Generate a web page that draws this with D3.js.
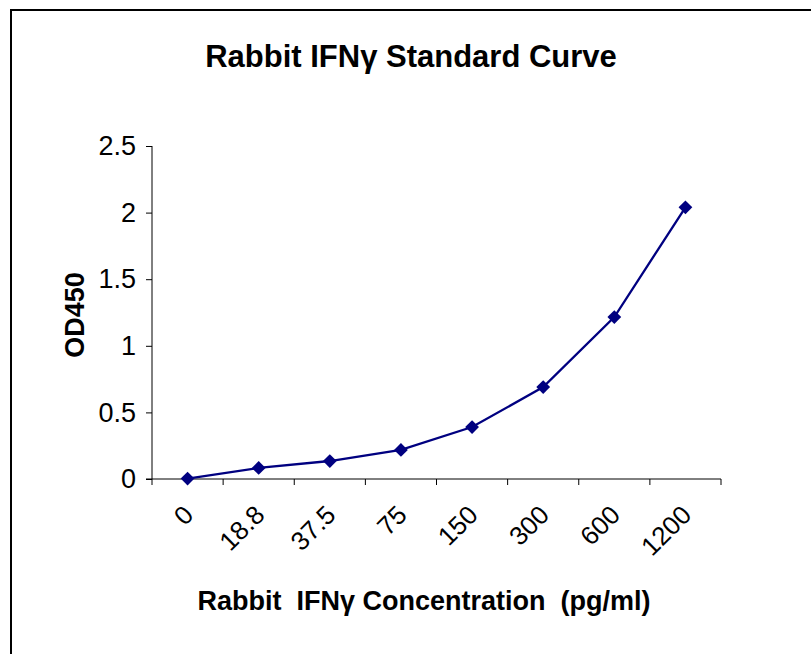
<!DOCTYPE html>
<html><head><meta charset="utf-8">
<script src="https://cdn.jsdelivr.net/npm/d3@7"></script>
<style>body{margin:0;background:#fff;} text{font-family:"Liberation Sans",Arial,sans-serif;}</style>
</head><body>
<svg id="c" width="811" height="654"></svg>
<script>
const categories = ["0","18.8","37.5","75","150","300","600","1200"];
const odValues = [0.003, 0.083, 0.135, 0.218, 0.39, 0.69, 1.216, 2.04];
const yTicks = [0, 0.5, 1, 1.5, 2, 2.5];

const svg = d3.select("#c");
svg.append("path").attr("d","M11,654 V10 H811").attr("fill","none").attr("stroke","#000").attr("stroke-width",2);

const pLeft = 152, pRight = 721, pTop = 146, pBottom = 479;
const x = d3.scaleBand().domain(categories).range([pLeft, pRight]);
const y = d3.scaleLinear().domain([0, 2.5]).range([pBottom, pTop]);

const yAxis = svg.append("g").attr("transform",`translate(${pLeft},0)`)
  .call(d3.axisLeft(y).tickValues(yTicks).tickSize(6).tickPadding(10).tickFormat(d3.format("")));
yAxis.select(".domain").attr("d",`M0,${pTop}V${pBottom}`);
yAxis.selectAll("text").attr("font-size",27).attr("fill","#000").attr("font-family","Liberation Sans, Arial, sans-serif");

const xAxis = svg.append("g").attr("transform",`translate(0,${pBottom})`)
  .call(d3.axisBottom(x).tickSize(0).tickFormat(""));
xAxis.select(".domain").attr("d",`M${pLeft-6},0H${pRight}`);
const bounds = categories.map(c => x(c)).concat([pRight]);
svg.append("g").selectAll("line").data(bounds).join("line")
  .attr("x1",d=>d).attr("x2",d=>d).attr("y1",pBottom).attr("y2",pBottom+6)
  .attr("stroke","#000");
svg.append("g").selectAll("text").data(categories).join("text")
  .attr("transform", d => `translate(${x(d)+x.bandwidth()/2+1},${pBottom+31}) rotate(-45)`)
  .attr("text-anchor","end").attr("font-size",26).attr("dy","0.35em").text(d=>d);

const line = d3.line().x((d,i)=>x(categories[i])+x.bandwidth()/2).y(d=>y(d));
svg.append("path").datum(odValues).attr("d",line).attr("fill","none").attr("stroke","#000080").attr("stroke-width",2.3);
svg.append("g").selectAll("path").data(odValues).join("path")
  .attr("d", d3.symbol().type(d3.symbolSquare).size(95))
  .attr("transform",(d,i)=>`translate(${x(categories[i])+x.bandwidth()/2},${y(d)}) rotate(45)`)
  .attr("fill","#000080");

svg.append("text").attr("x",411).attr("y",67).attr("text-anchor","middle").attr("font-size",31).attr("font-weight","bold").text("Rabbit IFNγ Standard Curve");
svg.append("text").attr("transform","translate(84,315) rotate(-90)").attr("text-anchor","middle").attr("font-size",27).attr("font-weight","bold").text("OD450");
svg.append("text").attr("x",424).attr("y",610).attr("text-anchor","middle").attr("font-size",27).attr("font-weight","bold").style("white-space","pre").text("Rabbit  IFNγ Concentration  (pg/ml)");
</script>
</body></html>
